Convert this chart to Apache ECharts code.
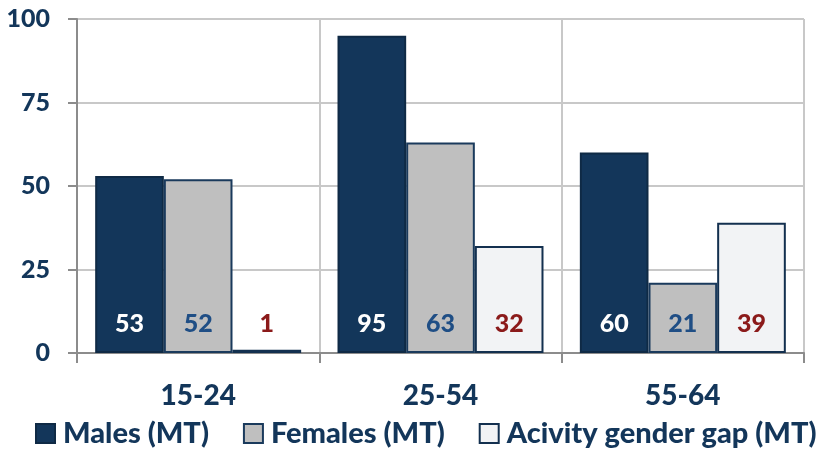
<!DOCTYPE html>
<html>
<head>
<meta charset="utf-8">
<script src="https://cdn.jsdelivr.net/npm/echarts@6/dist/echarts.min.js"></script>
<style>
  html, body { margin: 0; padding: 0; background: #fff; }
  #main { width: 824px; height: 453px; }
</style>
</head>
<body>
<div id="main"></div>
<script>
// age groups and values
var categories = ["15-24", "25-54", "55-64"];
var males = [53, 95, 60];
var females = [52, 63, 21];
var gap = [1, 32, 39];
var yTicks = [0, 25, 50, 75, 100];

var font = "Lato";
var navy = "#13365a";

var myChart = echarts.init(document.getElementById("main"));

function labelStyle(color) {
  return {
    show: true,
    position: "insideBottom",
    distance: 17,
    color: color,
    fontFamily: font,
    fontWeight: 900,
    fontSize: 25
  };
}

myChart.setOption({
  animation: false,
  legend: {
    left: 35,
    top: 419,
    width: 800,
    padding: 0,
    icon: "rect",
    itemWidth: 19,
    itemHeight: 19,
    itemGap: 34,
    textStyle: { color: navy, fontFamily: font, fontWeight: 900, fontSize: 29, padding: [0, 0, 0, 3] },
    data: ["Males (MT)", "Females (MT)", "Acivity gender gap (MT)"]
  },
  grid: {
    left: 77,
    right: 20,
    top: 19,
    bottom: 100
  },
  xAxis: {
    type: "category",
    data: categories,
    axisLine: { lineStyle: { color: "#8c8c8c", width: 2 } },
    axisTick: { show: true, length: 10, lineStyle: { color: "#8c8c8c", width: 2 } },
    splitLine: { show: true, lineStyle: { color: "#c8c8c8", width: 2 } },
    axisLabel: { margin: 29, color: navy, fontFamily: font, fontWeight: 900, fontSize: 28 }
  },
  yAxis: {
    type: "value",
    min: yTicks[0],
    max: yTicks[yTicks.length - 1],
    interval: 25,
    axisLine: { show: true, lineStyle: { color: "#8c8c8c", width: 2 } },
    axisTick: { show: true, length: 9, lineStyle: { color: "#8c8c8c", width: 2 } },
    splitLine: { lineStyle: { color: "#c8c8c8", width: 2 } },
    axisLabel: { margin: 27, color: navy, fontFamily: font, fontWeight: 900, fontSize: 25 }
  },
  series: [
    {
      name: "Males (MT)",
      type: "bar",
      barGap: "0%",
      barCategoryGap: "15%",
      data: males,
      itemStyle: { color: navy, borderColor: "#0f2a45", borderWidth: 2 },
      label: labelStyle("#ffffff")
    },
    {
      name: "Females (MT)",
      type: "bar",
      data: females,
      itemStyle: { color: "#bfbfbf", borderColor: "#1a3a5c", borderWidth: 2 },
      label: labelStyle("#1f4e85")
    },
    {
      name: "Acivity gender gap (MT)",
      type: "bar",
      data: gap,
      itemStyle: { color: "#f2f3f5", borderColor: "#13304f", borderWidth: 2 },
      label: labelStyle("#8b1a1a")
    }
  ]
});
</script>
</body>
</html>
